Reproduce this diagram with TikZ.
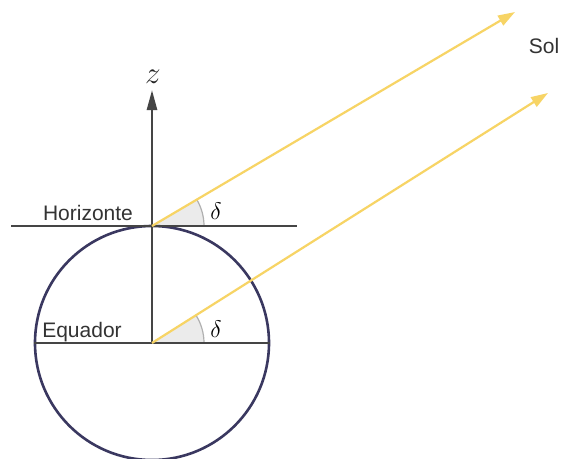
\documentclass[tikz,border=0pt]{standalone}
\usepackage{fix-cm}
\usepackage{fontspec}
\setmainfont{Liberation Sans}
\usetikzlibrary{arrows.meta}
\definecolor{ray}{HTML}{F7D465}
\definecolor{axis}{HTML}{454545}
\definecolor{globe}{HTML}{3A3860}
\definecolor{angfill}{HTML}{EBEBEB}
\definecolor{angline}{HTML}{B0B0B0}
\tikzset{
  axisline/.style={draw=axis, line width=2.6pt},
  rayline/.style={draw=ray, line width=2.2pt, -{Triangle[length=17pt,width=11pt]}},
  lbl/.style={font=\fontsize{21}{23}\selectfont, text=black!80, inner sep=0pt},
  anglbl/.style={font=\fontsize{24}{26}\selectfont, inner sep=0pt},
  zlbl/.style={font=\fontsize{24}{26}\selectfont, inner sep=0pt, text=black!85, scale=1.3},
}
\begin{document}
\begin{tikzpicture}[x=1pt,y=-1pt]
\useasboundingbox[fill=white] (0,0) rectangle (562,458);
\coordinate (O) at (152,343);
\coordinate (T) at (152,226);
\coordinate (Zt) at (152,90);
\coordinate (HL) at (11,226);
\coordinate (HR) at (297,226);
\coordinate (EL) at (34,343);
\coordinate (ER) at (270,343);
\coordinate (S1) at (515,12);
\coordinate (S2) at (548,93);
% angle wedges
\fill[angfill] (T) -- (204,226) arc[start angle=0,end angle=-30.5,radius=52] -- cycle;
\draw[angline, line width=1.2pt] (204,226) arc[start angle=0,end angle=-30.5,radius=52];
\fill[angfill] (O) -- (204,343) arc[start angle=0,end angle=-32.3,radius=52] -- cycle;
\draw[angline, line width=1.2pt] (204,343) arc[start angle=0,end angle=-32.3,radius=52];
% globe
\draw[globe, line width=2.6pt] (152,343) circle[radius=117];
% lines
\draw[axisline] (HL) -- (HR);
\draw[axisline] (EL) -- (ER);
\draw[axisline, -{Triangle[length=20pt,width=10pt]}] (O) -- (Zt);
% rays
\draw[rayline] (T) -- (S1);
\draw[rayline] (O) -- (S2);
% labels
\node[zlbl] (z) at (153,77) {$z$};
\node[lbl] (hor) at (88,213) {Horizonte};
\node[lbl] (equ) at (82,332) {Equador};
\node[lbl] (sol) at (544,46) {Sol};
\node[anglbl] (d1) at (216,211) {$\delta$};
\node[anglbl] (d2) at (216,329) {$\delta$};
\end{tikzpicture}
\end{document}
